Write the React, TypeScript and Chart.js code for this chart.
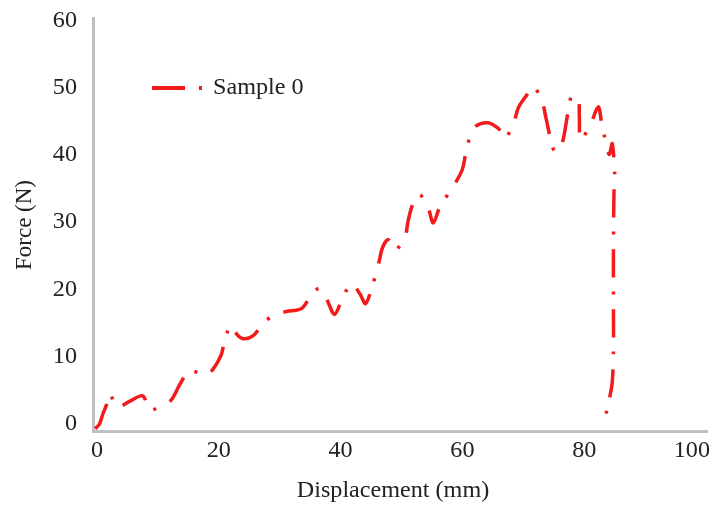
import { useEffect, useRef } from "react";
import { Chart, registerables } from "chart.js";

Chart.register(...registerables);

// Force–displacement curve of the tensile test
const displacement = [
  -0.3, 0.4, 1.0, 1.5, 2.1, 3.3, 5.4, 7.5, 8.7, 10.5, 12.2, 13.6, 15.2, 17.8, 19.0, 20.4,
  21.0, 22.0, 23.0, 24.0, 25.6, 27.3, 29.0, 30.9, 33.6, 35.0, 36.5, 37.8, 39.0, 40.4,
  41.8, 43.2, 44.1, 45.1, 46.3, 46.9, 47.8, 48.9, 50.5, 51.1, 51.9, 53.0, 54.4, 55.2,
  56.3, 58.8, 60.0, 60.5, 61.8, 64.2, 66.2, 67.0, 68.4, 69.2, 70.6, 71.6, 73.0, 73.7,
  74.4, 75.2, 76.3, 77.3, 77.9, 79.0, 79.2, 79.4, 81.0, 82.3, 82.9, 83.4, 84.1, 84.6,
  85.0, 84.9, 84.8, 84.8, 84.8, 84.6, 84.1, 83.7, 83.4,
];
const force = [
  -0.4, 0.3, 1.9, 3.0, 4.8, 2.8, 3.7, 4.5, 2.4, 3.0, 3.9, 6.2, 8.2, 7.6, 8.4, 10.6,
  12.9, 15.0, 13.6, 13.0, 13.4, 15.3, 16.5, 17.0, 17.5, 19.2, 20.5, 18.7, 16.6, 19.2,
  21.2, 19.6, 18.2, 20.5, 24.4, 26.6, 27.7, 26.2, 27.9, 30.6, 33.1, 34.4, 32.4, 30.2,
  32.6, 36.1, 38.2, 40.3, 44.3, 45.1, 44.0, 42.8, 45.0, 47.4, 49.3, 50.5, 48.6, 45.9,
  43.0, 40.8, 41.8, 46.5, 49.0, 48.8, 46.1, 42.6, 44.8, 47.5, 44.8, 42.8, 40.4, 42.0,
  37.6, 35.6, 27.0, 18.0, 11.0, 6.5, 3.9, 2.4, -0.2,
];

const xTicks = [0, 20, 40, 60, 80, 100];
const yTicks = [0, 10, 20, 30, 40, 50, 60];
const seriesName = "Sample 0";
const xTitle = "Displacement (mm)";
const yTitle = "Force (N)";

const RED = "#f21a1a";
const AXIS = "#c0c0c0";
const TEXT = "#222222";
const FONT = '23px "Liberation Serif", "Times New Roman", serif';
const STRETCH = 1.05;

function drawText(
  ctx: CanvasRenderingContext2D,
  text: string,
  x: number,
  y: number,
  align: CanvasTextAlign,
  rotate = 0
) {
  ctx.save();
  ctx.translate(x, y);
  if (rotate) ctx.rotate(rotate);
  else ctx.scale(STRETCH, 1);
  ctx.textAlign = align;
  ctx.textBaseline = "middle";
  ctx.fillText(text, 0, 0);
  ctx.restore();
}

const textPlugin = {
  id: "textLayer",
  afterDraw(chart: any) {
    const ctx: CanvasRenderingContext2D = chart.ctx;
    const xs = chart.scales.x;
    const ys = chart.scales.y;
    ctx.save();
    ctx.font = FONT;
    ctx.fillStyle = TEXT;

    // y tick labels
    for (const v of yTicks) {
      drawText(ctx, String(v), 77, ys.getPixelForValue(v) - 2, "right");
    }
    // x tick labels, last one kept inside the canvas
    for (const v of xTicks) {
      const label = String(v);
      const w = ctx.measureText(label).width * STRETCH;
      let cx = xs.getPixelForValue(v);
      if (cx + w / 2 > 710) cx = 710 - w / 2;
      drawText(ctx, label, cx, 451, "center");
    }
    // axis titles
    drawText(ctx, xTitle, 393, 491, "center");
    drawText(ctx, yTitle, 25, 225, "center", -Math.PI / 2);

    // legend
    const ly = 88;
    ctx.strokeStyle = RED;
    ctx.lineWidth = 4;
    ctx.setLineDash([]);
    ctx.beginPath();
    ctx.moveTo(152, ly);
    ctx.lineTo(185, ly);
    ctx.moveTo(199, ly);
    ctx.lineTo(202, ly);
    ctx.stroke();
    ctx.fillStyle = TEXT;
    drawText(ctx, seriesName, 213, ly, "left");
    ctx.restore();
  },
};

export default function App() {
  const canvasRef = useRef<HTMLCanvasElement | null>(null);

  useEffect(() => {
    const canvas = canvasRef.current;
    if (!canvas) return;
    const points = displacement.map((x, i) => ({ x, y: force[i] }));
    const chart = new Chart(canvas, {
      type: "line",
      data: {
        datasets: [
          {
            label: seriesName,
            data: points,
            borderColor: RED,
            borderWidth: 3.5,
            borderDash: [28, 14, 3, 15],
            pointRadius: 0,
            tension: 0.3,
            fill: false,
          },
        ],
      },
      options: {
        animation: false,
        responsive: false,
        devicePixelRatio: 1,
        layout: { padding: { top: 18, right: 8, left: 0, bottom: 0 } },
        plugins: {
          legend: { display: false },
          tooltip: { enabled: false },
        },
        scales: {
          x: {
            type: "linear",
            min: -0.66,
            max: 100.16,
            grid: { display: false },
            border: { display: true, color: AXIS, width: 3 },
            ticks: { display: false },
            afterFit(s: any) {
              s.height = 76;
              s.paddingLeft = 0;
              s.paddingRight = 0;
            },
          },
          y: {
            type: "linear",
            min: -0.74,
            max: 60.7,
            grid: { display: false },
            border: { display: true, color: AXIS, width: 3 },
            ticks: { display: false },
            afterFit(s: any) {
              s.width = 93;
              s.paddingTop = 0;
              s.paddingBottom = 0;
            },
          },
        },
      },
      plugins: [textPlugin],
    });
    return () => chart.destroy();
  }, []);

  return (
    <div style={{ position: "fixed", left: 0, top: 0, width: 715, height: 507, background: "#fff" }}>
      <canvas ref={canvasRef} width={715} height={507} style={{ display: "block" }} />
    </div>
  );
}
